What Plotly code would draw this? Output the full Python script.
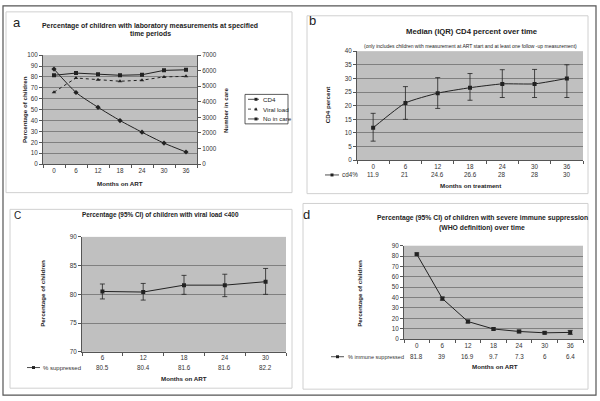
import plotly.graph_objects as go

# ---------------- data ----------------
months_a = ["0", "6", "12", "18", "24", "30", "36"]
cd4_pct_measured = [81.5, 83.5, 82.5, 81.5, 82.0, 86.0, 86.5]
vl_pct_measured = [66.0, 79.0, 77.5, 76.0, 77.0, 80.0, 80.5]
number_in_care = [6100, 4600, 3650, 2800, 2050, 1350, 780]

months_b = ["0", "6", "12", "18", "24", "30", "36"]
cd4_median = [11.9, 21, 24.6, 26.6, 28, 28, 30]
cd4_q1 = [7.0, 15.0, 19.0, 22.0, 23.0, 23.0, 23.0]
cd4_q3 = [17.2, 27.0, 30.3, 31.8, 33.2, 33.3, 35.0]

months_c = ["6", "12", "18", "24", "30"]
vl_suppressed = [80.5, 80.4, 81.6, 81.6, 82.2]
vl_lo = [79.2, 79.0, 80.0, 79.6, 80.0]
vl_hi = [81.8, 81.9, 83.3, 83.5, 84.5]

months_d = ["0", "6", "12", "18", "24", "30", "36"]
immune_supp = [81.8, 39, 16.9, 9.7, 7.3, 6, 6.4]
is_lo = [81.0, 37.5, 15.5, 8.7, 6.0, 5.0, 4.5]
is_hi = [83.0, 40.5, 18.3, 10.8, 8.6, 7.0, 8.3]

W, H = 600, 401
FONT = "Liberation Sans, Arial, sans-serif"
LINE = "#222222"
GRID = "#808080"
BG = "#c0c0c0"


def X(v):
    return v / W


def Y(v):
    return 1 - v / H


fig = go.Figure()

# ---------------- panel a ----------------
fig.add_trace(go.Scatter(x=months_a, y=cd4_pct_measured, xaxis="x", yaxis="y",
                         mode="lines+markers", name="CD4",
                         line=dict(color=LINE, width=1),
                         marker=dict(symbol="square", size=4, color=LINE),
                         showlegend=False))
fig.add_trace(go.Scatter(x=months_a, y=vl_pct_measured, xaxis="x", yaxis="y",
                         mode="lines+markers", name="Viral load",
                         line=dict(color=LINE, width=1, dash="dot"),
                         marker=dict(symbol="triangle-up", size=4, color=LINE),
                         showlegend=False))
fig.add_trace(go.Scatter(x=months_a, y=number_in_care, xaxis="x", yaxis="y2",
                         mode="lines+markers", name="No in care",
                         line=dict(color=LINE, width=1, shape="spline", smoothing=0.6),
                         marker=dict(symbol="diamond", size=4, color=LINE),
                         showlegend=False))


def err(hi, mid, lo):
    return dict(type="data", symmetric=False,
                array=[h - m for h, m in zip(hi, mid)],
                arrayminus=[m - l for m, l in zip(mid, lo)],
                color=LINE, thickness=0.8, width=2.5)


# ---------------- panel b ----------------
fig.add_trace(go.Scatter(x=months_b, y=cd4_median, xaxis="x2", yaxis="y3",
                         mode="lines+markers", name="cd4%",
                         line=dict(color=LINE, width=1, shape="spline", smoothing=0.5),
                         marker=dict(symbol="square", size=4, color=LINE),
                         error_y=err(cd4_q3, cd4_median, cd4_q1),
                         showlegend=False))

# ---------------- panel c ----------------
fig.add_trace(go.Scatter(x=months_c, y=vl_suppressed, xaxis="x3", yaxis="y4",
                         mode="lines+markers", name="% suppressed",
                         line=dict(color=LINE, width=1),
                         marker=dict(symbol="square", size=4, color=LINE),
                         error_y=err(vl_hi, vl_suppressed, vl_lo),
                         showlegend=False))

# ---------------- panel d ----------------
fig.add_trace(go.Scatter(x=months_d, y=immune_supp, xaxis="x4", yaxis="y5",
                         mode="lines+markers", name="% immune suppressed",
                         line=dict(color=LINE, width=1),
                         marker=dict(symbol="square", size=4, color=LINE),
                         error_y=err(is_hi, immune_supp, is_lo),
                         showlegend=False))

tickfont = dict(family=FONT, size=6.3, color="#333333")


def xcat(domain, anchor, n):
    return dict(domain=domain, anchor=anchor, type="category", range=[-0.5, n - 0.5],
                showgrid=False, showline=True, linecolor="#555555", linewidth=1,
                mirror=False, ticks="outside", ticklen=3, tickcolor="#555555",
                tickson="boundaries", tickfont=tickfont, zeroline=False, fixedrange=True)


def ylin(domain, anchor, rng, dtick):
    return dict(domain=domain, anchor=anchor, range=rng, dtick=dtick,
                showgrid=True, gridcolor=GRID, gridwidth=1, showline=True,
                linecolor="#555555", linewidth=1, ticks="outside", ticklen=3,
                tickcolor="#555555", tickfont=tickfont, zeroline=False, fixedrange=True)


layout = dict(
    width=W, height=H, margin=dict(l=0, r=0, t=0, b=0),
    paper_bgcolor="white", plot_bgcolor=BG, showlegend=False,
    font=dict(family=FONT, color="#222222"),
    xaxis=xcat([X(43), X(197)], "y", len(months_a)),
    yaxis=ylin([Y(163), Y(52)], "x", [0, 100], 10),
    yaxis2=dict(overlaying="y", side="right", anchor="x", range=[0, 7000], dtick=1000,
                showgrid=False, showline=True, linecolor="#555555", linewidth=1,
                ticks="outside", ticklen=3, tickcolor="#555555", tickfont=tickfont,
                zeroline=False, fixedrange=True),
    xaxis2=xcat([X(357), X(583)], "y3", len(months_b)),
    yaxis3=ylin([Y(159), Y(48)], "x2", [0, 40], 5),
    xaxis3=xcat([X(82), X(286)], "y4", len(months_c)),
    yaxis4=ylin([Y(354), Y(237)], "x3", [70, 90], 5),
    xaxis4=xcat([X(404), X(583)], "y5", len(months_d)),
    yaxis5=ylin([Y(341), Y(246)], "x4", [0, 90], 10),
)
fig.update_layout(**layout)

ann = []
shapes = []


def text(x, y, s, size=6, bold=False, angle=0, xanchor="center", xref="paper", color="#222222"):
    if bold:
        s = "<b>" + s + "</b>"
    ann.append(dict(x=x if xref != "paper" else X(x), y=Y(y), xref=xref, yref="paper",
                    text=s, showarrow=False, textangle=angle, xanchor=xanchor,
                    yanchor="middle", font=dict(family=FONT, size=size, color=color)))


def key(x0, x1, yy):
    shapes.append(dict(type="line", xref="paper", yref="paper", x0=X(x0), x1=X(x1), y0=Y(yy), y1=Y(yy),
                       line=dict(color=LINE, width=0.8)))
    cx = (x0 + x1) / 2
    shapes.append(dict(type="rect", xref="paper", yref="paper", x0=X(cx - 1.5), x1=X(cx + 1.5),
                       y0=Y(yy + 1.5), y1=Y(yy - 1.5), line=dict(width=0), fillcolor=LINE))


# outer frame and panel boxes
shapes.append(dict(type="rect", xref="paper", yref="paper", x0=X(3), x1=X(596), y0=Y(398), y1=Y(2),
                   line=dict(color="#555555", width=1.2), layer="below"))
for (x0, y0, x1, y1) in [(6, 8, 292, 192), (307, 12, 588, 193), (10, 209, 292, 391), (303, 203, 588, 392)]:
    shapes.append(dict(type="rect", xref="paper", yref="paper", x0=X(x0), x1=X(x1), y0=Y(y1), y1=Y(y0),
                       line=dict(color="#d0d0d0", width=1), layer="below"))

# ---- panel a texts
text(17, 19, "a", size=13)
text(150, 22, "Percentage of children with laboratory measurements at specified", 6.9, True)
text(150, 31, "time periods", 6.9, True)
text(24, 108, "Percentage of children", 6.2, True, -90)
text(225, 108, "Number in care", 6.2, True, -90)
text(120, 183, "Months on ART", 6.2, True)

# legend box panel a
shapes.append(dict(type="rect", xref="paper", yref="paper", x0=X(245), x1=X(288), y0=Y(122), y1=Y(92),
                   line=dict(color="#333333", width=0.8), fillcolor="white"))
leg = [("CD4", "solid", "square", 97), ("Viral load", "dot", "triangle", 107), ("No in care", "solid", "diamond", 117)]
for name, dash, sym, yy in leg:
    shapes.append(dict(type="line", xref="paper", yref="paper", x0=X(248), x1=X(259), y0=Y(yy), y1=Y(yy),
                       line=dict(color=LINE, width=0.8, dash=dash)))
    cx = 256
    if sym in ("square", "diamond"):
        shapes.append(dict(type="rect", xref="paper", yref="paper", x0=X(cx - 1.5), x1=X(cx + 1.5),
                           y0=Y(yy + 1.5), y1=Y(yy - 1.5), line=dict(width=0), fillcolor=LINE))
    else:
        shapes.append(dict(type="path", xref="paper", yref="paper",
                           path=f"M {X(cx-1.7)} {Y(yy+1.5)} L {X(cx+1.7)} {Y(yy+1.5)} L {X(cx)} {Y(yy-1.8)} Z",
                           line=dict(width=0), fillcolor=LINE))
    text(261, yy, name, 6.2, False, 0, "left")

# ---- panel b texts
text(312, 17, "b", size=13)
text(472, 28, "Median (IQR) CD4 percent over time", 7.7, True)
text(470, 43, "(only includes children with measurement at ART start and at least one follow -up measurement)", 5.0)
text(327, 103, "CD4 percent", 6.2, True, -90)
text(470, 185, "Months on treatment", 6.2, True)
for i, v in enumerate(cd4_median):
    text(i, 174, f"{v:g}", 6.3, xref="x2", color="#333333")
key(325, 339, 174)
text(340, 174, "cd4%", 6.3, xanchor="left", color="#333333")

# ---- panel c texts
text(17, 215, "C", size=10)
text(160, 215, "Percentage (95% CI) of children with viral load <400", 6.4, True)
text(43, 295, "Percentage of children", 6.2, True, -90)
text(184, 381, "Months on ART", 6.2, True)
for i, v in enumerate(vl_suppressed):
    text(i, 370, f"{v:g}", 6.3, xref="x3", color="#333333")
key(27, 40, 370)
text(41, 370, "% suppressed", 6.0, xanchor="left", color="#333333")

# ---- panel d texts
text(306, 214, "d", size=13)
text(482, 218, "Percentage (95% CI) of children with severe immune suppression", 6.8, True)
text(482, 228, "(WHO definition) over time", 6.8, True)
text(360, 295, "Percentage of children", 6.2, True, -90)
text(495, 369, "Months on ART", 6.2, True)
for i, v in enumerate(immune_supp):
    text(i, 359, f"{v:g}", 6.3, xref="x4", color="#333333")
key(331, 344, 359)
text(346, 359, "% immune suppressed", 5.5, xanchor="left", color="#333333")

fig.update_layout(annotations=ann, shapes=shapes)
fig.write_html("out.html", config={"displayModeBar": False},
               post_script="document.body.style.margin='0px';")
